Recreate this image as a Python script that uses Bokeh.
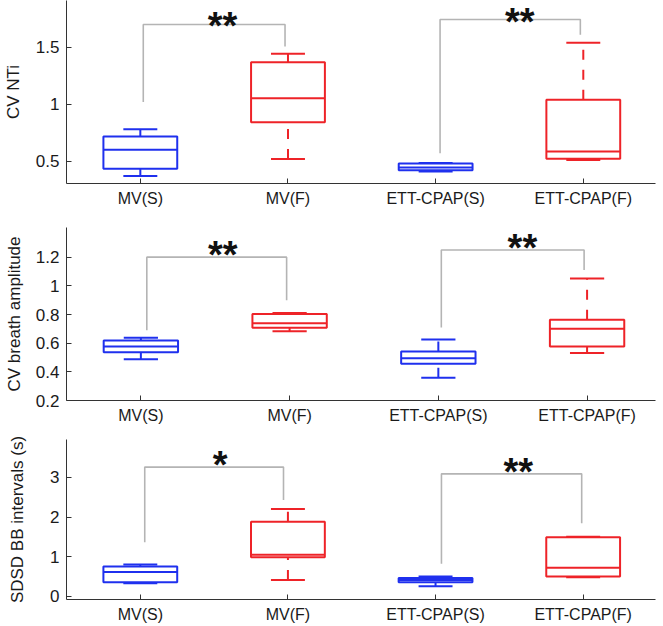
from bokeh.plotting import figure
from bokeh.layouts import column
from bokeh.models import FixedTicker, Range1d
from bokeh.core.properties import value
from bokeh.embed import file_html
from bokeh.resources import INLINE

groups = ["MV(S)", "MV(F)", "ETT-CPAP(S)", "ETT-CPAP(F)"]
pos = [1, 2, 3, 4]

# Panel 1: CV NTi
nti_low = [0.37, 0.52, 0.41, 0.51]
nti_q1 = [0.433, 0.842, 0.42, 0.521]
nti_med = [0.60, 1.053, 0.445, 0.585]
nti_q3 = [0.717, 1.368, 0.48, 1.04]
nti_high = [0.781, 1.442, 0.485, 1.539]
nti_ticks = [0.5, 1, 1.5]
nti_tick_labels = ["0.5", "1", "1.5"]
nti_br_x0 = [1.02, 3.03]
nti_br_x1 = [1.98, 3.98]
nti_br_y = [1.70, 1.743]
nti_br_yl = [1.02, 0.57]
nti_br_yr = [1.506, 1.61]
nti_br_sx = [1.556, 3.57]
nti_br_txt = ["**", "**"]

# Panel 2: CV breath amplitude
amp_low = [0.488, 0.683, 0.358, 0.532]
amp_q1 = [0.537, 0.707, 0.456, 0.576]
amp_med = [0.576, 0.739, 0.495, 0.70]
amp_q3 = [0.618, 0.804, 0.541, 0.764]
amp_high = [0.637, 0.81, 0.625, 1.052]
amp_ticks = [0.2, 0.4, 0.6, 0.8, 1, 1.2]
amp_tick_labels = ["0.2", "0.4", "0.6", "0.8", "1", "1.2"]
amp_br_x0 = [1.04, 3.02]
amp_br_x1 = [1.98, 3.98]
amp_br_y = [1.20, 1.25]
amp_br_yl = [0.69, 0.71]
amp_br_yr = [0.90, 1.11]
amp_br_sx = [1.55, 3.565]
amp_br_txt = ["**", "**"]

# Panel 3: SDSD BB intervals (s)
bb_low = [0.33, 0.41, 0.25, 0.48]
bb_q1 = [0.35, 0.985, 0.35, 0.50]
bb_med = [0.61, 1.05, 0.41, 0.72]
bb_q3 = [0.75, 1.88, 0.46, 1.49]
bb_high = [0.80, 2.20, 0.50, 1.50]
bb_ticks = [0, 1, 2, 3]
bb_tick_labels = ["0", "1", "2", "3"]
bb_br_x0 = [1.03, 3.04]
bb_br_x1 = [1.97, 3.99]
bb_br_y = [3.26, 3.09]
bb_br_yl = [1.36, 0.82]
bb_br_yr = [2.43, 1.84]
bb_br_sx = [1.54, 3.56]
bb_br_txt = ["*", "**"]

BLUE = "#1f30ee"
RED = "#ee2328"
colors = [BLUE, RED, BLUE, RED]
FONT = "Liberation Sans"
BOX_W = 0.5
CAP_W = 0.23


def panel(ylabel, low, q1, med, q3, high, ticks, tick_labels, yr, xr_end,
          height, btop, bbot, bright, al_standoff,
          bx0, bx1, by, byl, byr, bsx, btxt, star_off):
    p = figure(width=663, height=height, output_backend="svg", toolbar_location=None,
               x_range=Range1d(0.5, xr_end), y_range=Range1d(*yr),
               min_border_left=59, min_border_right=bright,
               min_border_top=btop, min_border_bottom=bbot)
    p.outline_line_color = None
    p.grid.visible = False
    p.background_fill_color = "white"
    p.border_fill_color = "white"

    # significance brackets
    xs = [[a, a, b, b] for a, b in zip(bx0, bx1)]
    ys = [[l, y, y, r] for l, y, r in zip(byl, by, byr)]
    p.multi_line(xs, ys, line_color="#b4b4b4", line_width=1.6)
    p.text(x=bsx, y=by, text=btxt, text_font=value(FONT), text_font_size="38px",
           text_font_style="bold",
           text_align="center", text_baseline="top", y_offset=star_off,
           text_color="#111111")

    left = [x - BOX_W / 2 for x in pos]
    right = [x + BOX_W / 2 for x in pos]
    # whiskers (drawn from lower point upward)
    p.segment(x0=pos, y0=low, x1=pos, y1=q1, line_color=colors, line_width=2,
              line_dash="10 10")
    p.segment(x0=pos, y0=q3, x1=pos, y1=high, line_color=colors, line_width=2,
              line_dash="10 10")
    # caps
    p.segment(x0=[x - CAP_W / 2 for x in pos], y0=low, x1=[x + CAP_W / 2 for x in pos],
              y1=low, line_color=colors, line_width=2)
    p.segment(x0=[x - CAP_W / 2 for x in pos], y0=high, x1=[x + CAP_W / 2 for x in pos],
              y1=high, line_color=colors, line_width=2)
    # boxes and medians
    p.quad(left=left, right=right, bottom=q1, top=q3, fill_color=None,
           line_color=colors, line_width=2)
    p.segment(x0=left, y0=med, x1=right, y1=med, line_color=colors, line_width=2)

    for ax in (p.xaxis[0], p.yaxis[0]):
        ax.axis_line_color = "#333333"
        ax.axis_line_width = 1
        ax.major_tick_in = 5
        ax.major_tick_out = 0
        ax.major_tick_line_color = "#333333"
        ax.minor_tick_line_color = None
        ax.major_label_text_font = FONT
        ax.major_label_text_color = "#1a1a1a"
    p.xaxis.major_label_text_font_size = "16px"
    p.yaxis.major_label_text_font_size = "17px"
    p.xaxis.ticker = FixedTicker(ticks=pos)
    p.xaxis.major_label_overrides = {k: v for k, v in zip(pos, groups)}
    p.xaxis.major_label_standoff = 6
    p.yaxis.ticker = FixedTicker(ticks=ticks)
    p.yaxis.major_label_overrides = {k: v for k, v in zip(ticks, tick_labels)}
    p.yaxis.major_label_standoff = 7
    p.yaxis.axis_label = ylabel
    p.yaxis.axis_label_text_font = FONT
    p.yaxis.axis_label_text_font_size = "17px"
    p.yaxis.axis_label_text_font_style = "normal"
    p.yaxis.axis_label_text_color = "#1a1a1a"
    p.yaxis.axis_label_standoff = al_standoff
    return p


p1 = panel("CV NTi", nti_low, nti_q1, nti_med, nti_q3, nti_high, nti_ticks, nti_tick_labels,
           (0.304, 1.91), 4.489, 213, 0, 30, 8, 10,
           nti_br_x0, nti_br_x1, nti_br_y, nti_br_yl, nti_br_yr, nti_br_sx, nti_br_txt, -19)
p2 = panel("CV breath amplitude", amp_low, amp_q1, amp_med, amp_q3, amp_high, amp_ticks,
           amp_tick_labels, (0.2, 1.407), 4.46, 215, 14, 28, 1, 9,
           amp_br_x0, amp_br_x1, amp_br_y, amp_br_yl, amp_br_yr, amp_br_sx, amp_br_txt, -23)
p3 = panel("SDSD BB intervals (s)", bb_low, bb_q1, bb_med, bb_q3, bb_high, bb_ticks,
           bb_tick_labels, (-0.083, 3.957), 4.49, 198, 11, 27, 3, 20,
           bb_br_x0, bb_br_x1, bb_br_y, bb_br_yl, bb_br_yr, bb_br_sx, bb_br_txt, -23)

layout = column(p1, p2, p3, spacing=0)
open("out.html", "w").write(file_html(layout, INLINE))
